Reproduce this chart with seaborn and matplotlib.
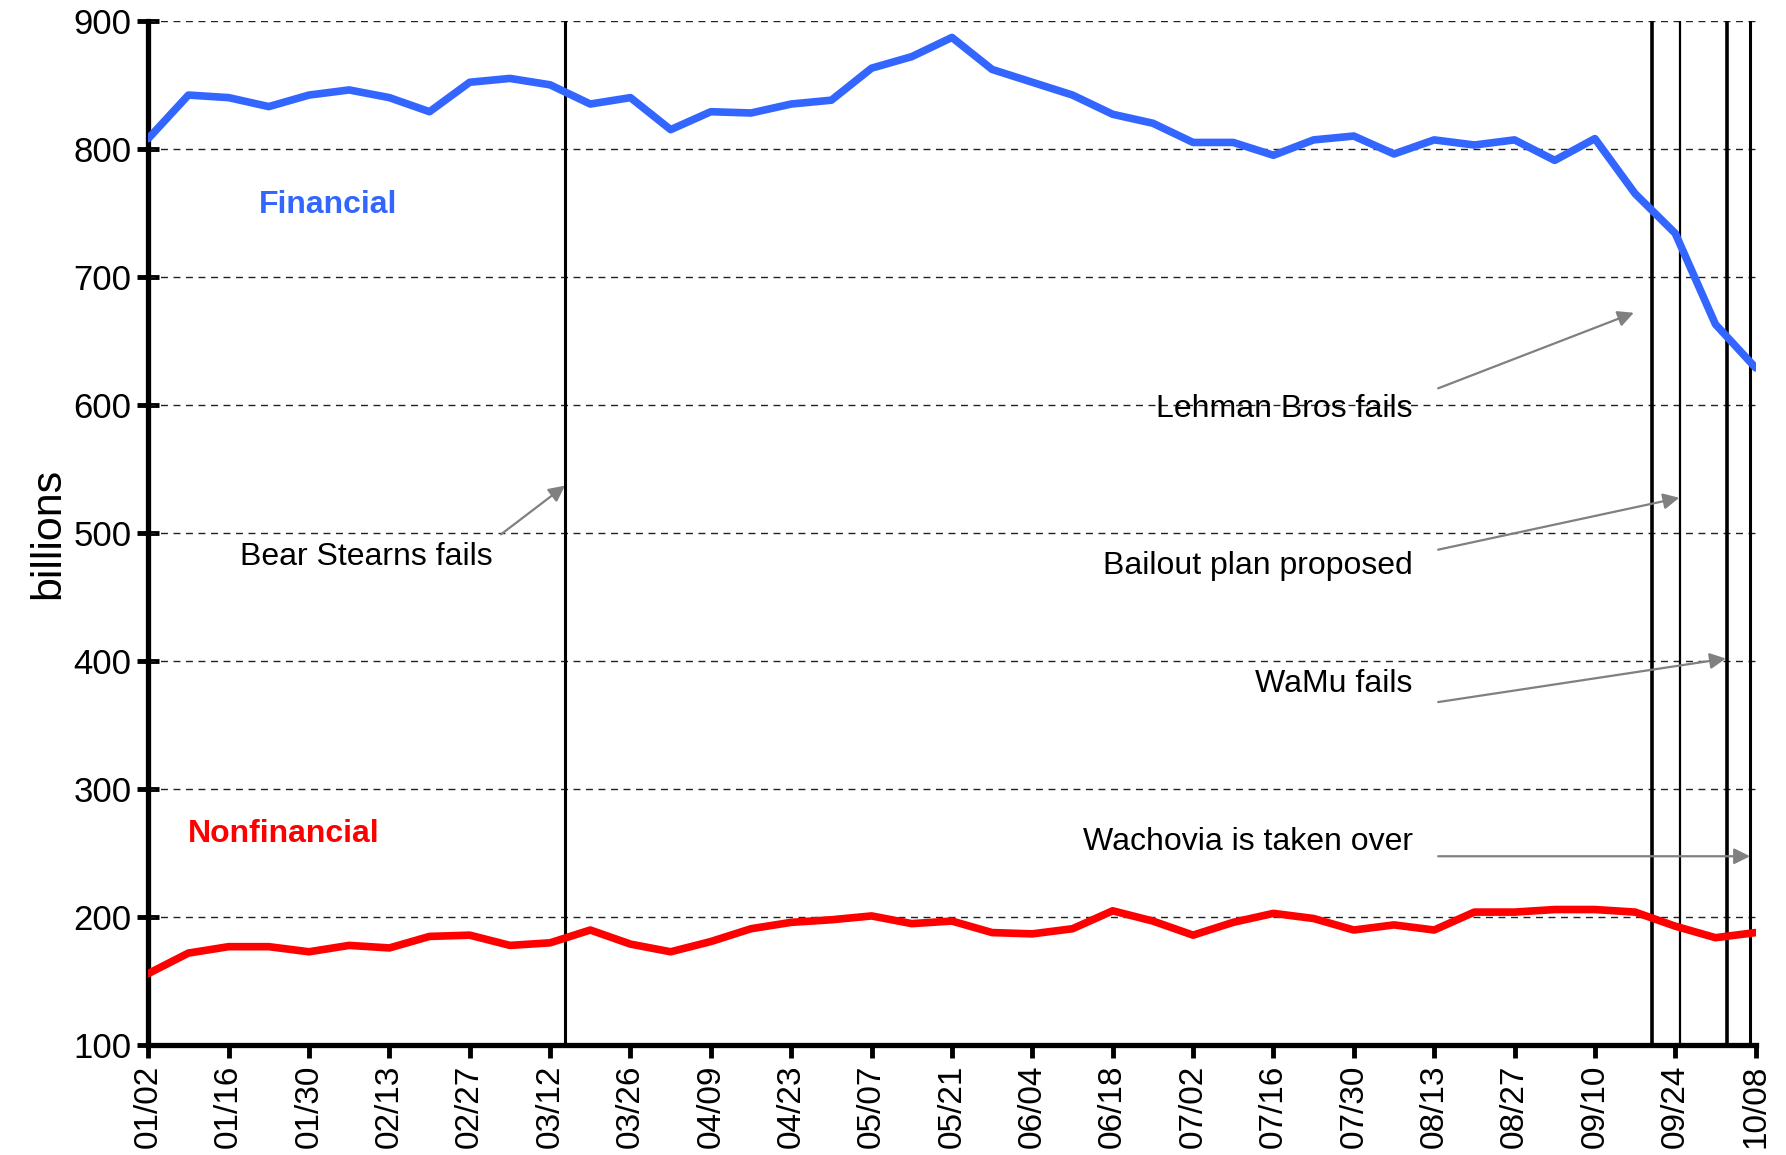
import matplotlib
matplotlib.use("Agg")
import matplotlib.pyplot as plt
import seaborn as sns
import pandas as pd
import numpy as np

weeks = ["01/02","01/09","01/16","01/23","01/30","02/06","02/13","02/20","02/27","03/05",
         "03/12","03/19","03/26","04/02","04/09","04/16","04/23","04/30","05/07","05/14",
         "05/21","05/28","06/04","06/11","06/18","06/25","07/02","07/09","07/16","07/23",
         "07/30","08/06","08/13","08/20","08/27","09/03","09/10","09/17","09/24","10/01","10/08"]

financial = [808, 842, 840, 833, 842, 846, 840, 829, 852, 855,
             850, 835, 840, 815, 829, 828, 835, 838, 863, 872,
             887, 862, 852, 842, 827, 820, 805, 805, 795, 807,
             810, 796, 807, 803, 807, 791, 808, 765, 734, 663, 629]

nonfinancial = [156, 172, 177, 177, 173, 178, 176, 185, 186, 178,
                180, 190, 179, 173, 181, 191, 196, 198, 201, 195,
                197, 188, 187, 191, 205, 197, 186, 196, 203, 199,
                190, 194, 190, 204, 204, 206, 206, 204, 193, 184, 188]

tick_labels = weeks[::2]

event_labels = ["Bear Stearns fails", "Lehman Bros fails", "Bailout plan proposed",
                "WaMu fails", "Wachovia is taken over"]
event_weeks = [10.37, 37.42, 38.13, 39.29, 39.86]
event_widths = [2.2, 2.6, 1.6, 2.6, 2.2]

df = pd.DataFrame({
    "week": list(range(len(weeks))) * 2,
    "value": financial + nonfinancial,
    "series": ["Financial"] * len(weeks) + ["Nonfinancial"] * len(weeks),
})

sns.set_style("white")
plt.rcParams["font.family"] = ["Liberation Sans", "DejaVu Sans"]
plt.rcParams["text.color"] = "black"
plt.rcParams["axes.labelcolor"] = "black"
plt.rcParams["xtick.color"] = "black"
plt.rcParams["ytick.color"] = "black"

fig = plt.figure(figsize=(17.86, 11.55), dpi=100)
ax = fig.add_axes([0.083, 0.095, 0.90, 0.887])

blue = "#3366FF"
red = "#FF0000"
sns.lineplot(data=df, x="week", y="value", hue="series",
             palette={"Financial": blue, "Nonfinancial": red},
             linewidth=5.5, legend=False, ax=ax, zorder=3)

ax.set_xlim(0, 40)
ax.set_ylim(100, 900)
ax.set_yticks(range(100, 901, 100))
ax.set_xticks(range(0, 41, 2))
ax.set_xticklabels(tick_labels, rotation=90, fontsize=24)
ax.tick_params(axis="y", left=True, labelsize=25, direction="inout", length=16, width=3.5, pad=4)
ax.tick_params(axis="x", bottom=True, direction="out", length=9, width=3.5, pad=5)

for v in range(200, 901, 100):
    ax.axhline(v, color="#222222", linestyle=(0, (5, 4)), linewidth=1.0, zorder=1)

for s in ["top", "right"]:
    ax.spines[s].set_visible(False)
for s in ["left", "bottom"]:
    ax.spines[s].set_linewidth(3.8)
    ax.spines[s].set_color("black")

for w, lw in zip(event_weeks, event_widths):
    ax.axvline(w, ymin=0, ymax=1, color="black", linewidth=lw, zorder=2)

ax.set_xlabel("")
ax.set_ylabel("billions", fontsize=31, labelpad=4)

ax.text(2.75, 756, "Financial", color=blue, fontsize=23, fontweight="bold", va="center", ha="left")
ax.text(0.99, 265, "Nonfinancial", color=red, fontsize=23, fontweight="bold", va="center", ha="left")

arrow_kw = dict(arrowstyle="-|>", color="#808080", lw=1.6, mutation_scale=24, shrinkA=0, shrinkB=0)

fs = 23
ax.text(8.56, 481, event_labels[0], fontsize=fs, ha="right", va="center")
ax.annotate("", xy=(10.37, 537), xytext=(8.78, 499), arrowprops=arrow_kw)

ax.text(31.47, 597, event_labels[1], fontsize=fs, ha="right", va="center")
ax.annotate("", xy=(36.97, 672), xytext=(32.1, 613), arrowprops=arrow_kw)

ax.text(31.47, 474, event_labels[2], fontsize=fs, ha="right", va="center")
ax.annotate("", xy=(38.1, 527.5), xytext=(32.1, 487), arrowprops=arrow_kw)

ax.text(31.47, 382, event_labels[3], fontsize=fs, ha="right", va="center")
ax.annotate("", xy=(39.26, 402), xytext=(32.1, 368), arrowprops=arrow_kw)

ax.text(31.47, 259, event_labels[4], fontsize=fs, ha="right", va="center")
ax.annotate("", xy=(39.86, 247.6), xytext=(32.1, 247.6), arrowprops=arrow_kw)

fig.savefig("out.png", dpi=100)
